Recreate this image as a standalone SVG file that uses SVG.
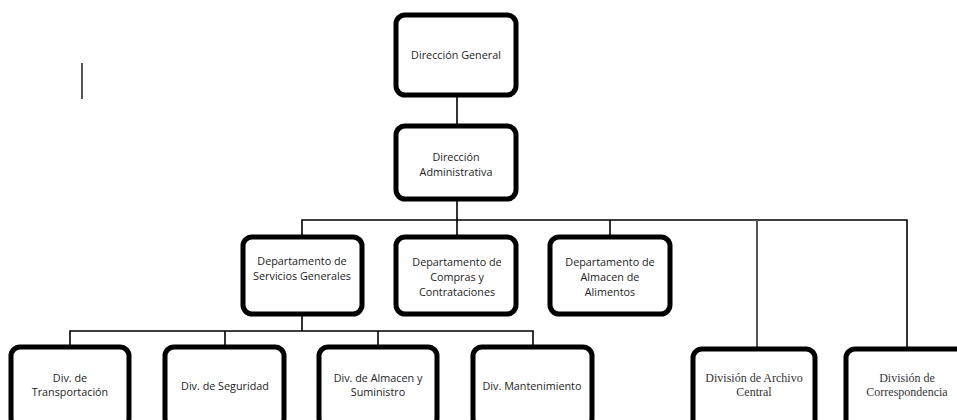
<svg xmlns="http://www.w3.org/2000/svg" width="957" height="420" viewBox="0 0 957 420">
<style>
.box{fill:#fff;stroke:#000;stroke-width:5}
.c{stroke:#000;stroke-width:1.6;fill:none}
.g{stroke:#555;stroke-width:2;fill:none}
.t{font-family:"Open Sans","Liberation Sans",sans-serif;font-size:10.8px;fill:#222;text-anchor:middle}
.s{font-family:"Liberation Serif",serif;font-size:12px;font-weight:normal;fill:#333;text-anchor:middle}
</style>
<rect width="957" height="420" fill="#fff"/>
<line x1="82" y1="63" x2="82" y2="99" class="g"/>
<g id="connectors">
<line x1="457" y1="95" x2="457" y2="125" class="c" stroke-width="2"/>
<line x1="457" y1="199" x2="457" y2="220" class="c"/>
<polyline points="302,236 302,220 907,220 907,348" class="c"/>
<line x1="457" y1="220" x2="457" y2="236" class="c"/>
<line x1="610" y1="220" x2="610" y2="236" class="c"/>
<line x1="757" y1="220" x2="757" y2="348" class="g"/>
<line x1="302" y1="314" x2="302" y2="331" class="c"/>
<polyline points="70,346 70,331 533,331 533,346" class="c"/>
<line x1="225" y1="331" x2="225" y2="346" class="c"/>
<line x1="378" y1="331" x2="378" y2="346" class="c"/>
</g>
<g id="n1"><rect x="396" y="15" width="120" height="80" rx="9" class="box"/><text x="456" y="59" class="t">Dirección General</text></g>
<g id="n2"><rect x="396" y="126" width="120" height="73" rx="9" class="box"/><text x="456" y="161" class="t">Dirección</text><text x="456" y="176" class="t">Administrativa</text></g>
<g id="n3"><rect x="243" y="237" width="119" height="77" rx="9" class="box"/><text x="302" y="265" class="t">Departamento de</text><text x="302" y="280" class="t">Servicios Generales</text></g>
<g id="n4"><rect x="396" y="237" width="120" height="77" rx="9" class="box"/><text x="457" y="266" class="t">Departamento de</text><text x="457" y="281" class="t">Compras y</text><text x="457" y="296" class="t">Contrataciones</text></g>
<g id="n5"><rect x="550" y="237" width="120" height="77" rx="9" class="box"/><text x="610" y="266" class="t">Departamento de</text><text x="610" y="281" class="t">Almacen de</text><text x="610" y="296" class="t">Alimentos</text></g>
<g id="n6"><rect x="11" y="347" width="118" height="80" rx="9" class="box"/><text x="70" y="382" class="t">Div. de</text><text x="70" y="396" class="t">Transportación</text></g>
<g id="n7"><rect x="165" y="347" width="119" height="80" rx="9" class="box"/><text x="225" y="390" class="t">Div. de Seguridad</text></g>
<g id="n8"><rect x="319" y="347" width="118" height="80" rx="9" class="box"/><text x="378" y="382" class="t">Div. de Almacen y</text><text x="378" y="396" class="t">Suministro</text></g>
<g id="n9"><rect x="473" y="347" width="119" height="80" rx="9" class="box"/><text x="532" y="390" class="t">Div. Mantenimiento</text></g>
<g id="n10"><rect x="693" y="349" width="122" height="80" rx="9" class="box"/><text x="754" y="382" class="s">División de Archivo</text><text x="754" y="396" class="s">Central</text></g>
<g id="n11"><rect x="846" y="349" width="122" height="80" rx="9" class="box"/><text x="907" y="382" class="s">División de</text><text x="907" y="396" class="s">Correspondencia</text></g>
</svg>
